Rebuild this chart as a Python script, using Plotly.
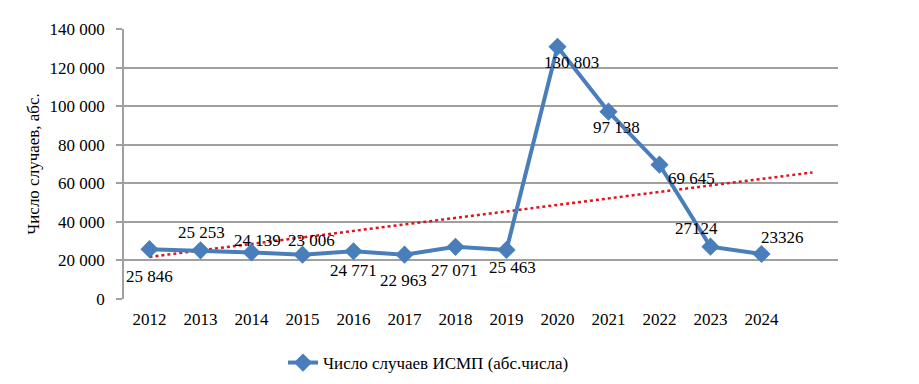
import numpy as np
import plotly.graph_objects as go

years = [2012, 2013, 2014, 2015, 2016, 2017, 2018, 2019, 2020, 2021, 2022, 2023, 2024]
cases = [25846, 25253, 24139, 23006, 24771, 22963, 27071, 25463, 130803, 97138, 69645, 27124, 23326]
labels = ["25 846", "25 253", "24 139", "23 006", "24 771", "22 963", "27 071", "25 463",
          "130 803", "97 138", "69 645", "27124", "23326"]
y_ticks = [0, 20000, 40000, 60000, 80000, 100000, 120000, 140000]
y_ticktext = ["0", "20 000", "40 000", "60 000", "80 000", "100 000", "120 000", "140 000"]
series_name = "Число случаев ИСМП (абс.числа)"
y_title = "Число случаев, абс."

# label offsets (pixels) relative to each point
label_dx = [0, 1, 6, 9, 0, -1, -1, 6, 14, 8, 32, -14, 21]
label_dy = [-27, 18, 12, 14, -19, -26, -24, -18, -16, -16, -14, 18, 17]

FONT = "Times New Roman"

# linear trend, forecast one period forward
coef = np.polyfit(years, cases, 1)
trend_x = [years[0], years[-1] + 1]
trend_y = [coef[0] * x + coef[1] for x in trend_x]

fig = go.Figure()
fig.add_trace(go.Scatter(
    x=trend_x, y=trend_y, mode="lines",
    line=dict(color="#e0141e", width=2.5, dash="dot"),
    showlegend=False, hoverinfo="skip"))
fig.add_trace(go.Scatter(
    x=years, y=cases, mode="lines+markers", name=series_name,
    line=dict(color="#4a7ebb", width=4),
    marker=dict(symbol="diamond", size=14, color="#4a7ebb")))

for x, y, t, dx, dy in zip(years, cases, labels, label_dx, label_dy):
    fig.add_annotation(x=x, y=y, text=t, showarrow=False,
                       xshift=dx, yshift=dy,
                       font=dict(family=FONT, size=17, color="black"))

fig.update_layout(
    width=919, height=384,
    margin=dict(l=124, r=81, t=29, b=85, autoexpand=False),
    paper_bgcolor="white", plot_bgcolor="white",
    font=dict(family=FONT, size=17, color="black"),
    legend=dict(orientation="h", x=0.2227, xanchor="left", y=-0.237, yanchor="middle",
                font=dict(family=FONT, size=17, color="black"),
                bgcolor="rgba(0,0,0,0)"),
    xaxis=dict(range=[years[0] - 0.5, years[-1] + 1.5], tickvals=years,
               ticktext=[str(y) for y in years], showgrid=False, zeroline=False,
               showline=False, ticks="", ticklabelstandoff=8, automargin=False,
               tickfont=dict(family=FONT, size=17, color="black")),
    yaxis=dict(range=[0, 140000], tickvals=y_ticks, ticktext=y_ticktext,
               showgrid=True, gridcolor="#a0a0a0", gridwidth=1.5, zeroline=False,
               showline=True, linecolor="#a0a0a0", linewidth=1.5,
               ticks="outside", ticklen=6, tickcolor="#a0a0a0", tickwidth=1.5,
               ticklabelstandoff=8, automargin=False,
               tickfont=dict(family=FONT, size=17, color="black"),
               title=dict(text=y_title, standoff=6,
                          font=dict(family=FONT, size=17, color="black"))),
)

fig.write_html("out.html", config={"displayModeBar": False},
               post_script="document.body.style.margin='0';")
